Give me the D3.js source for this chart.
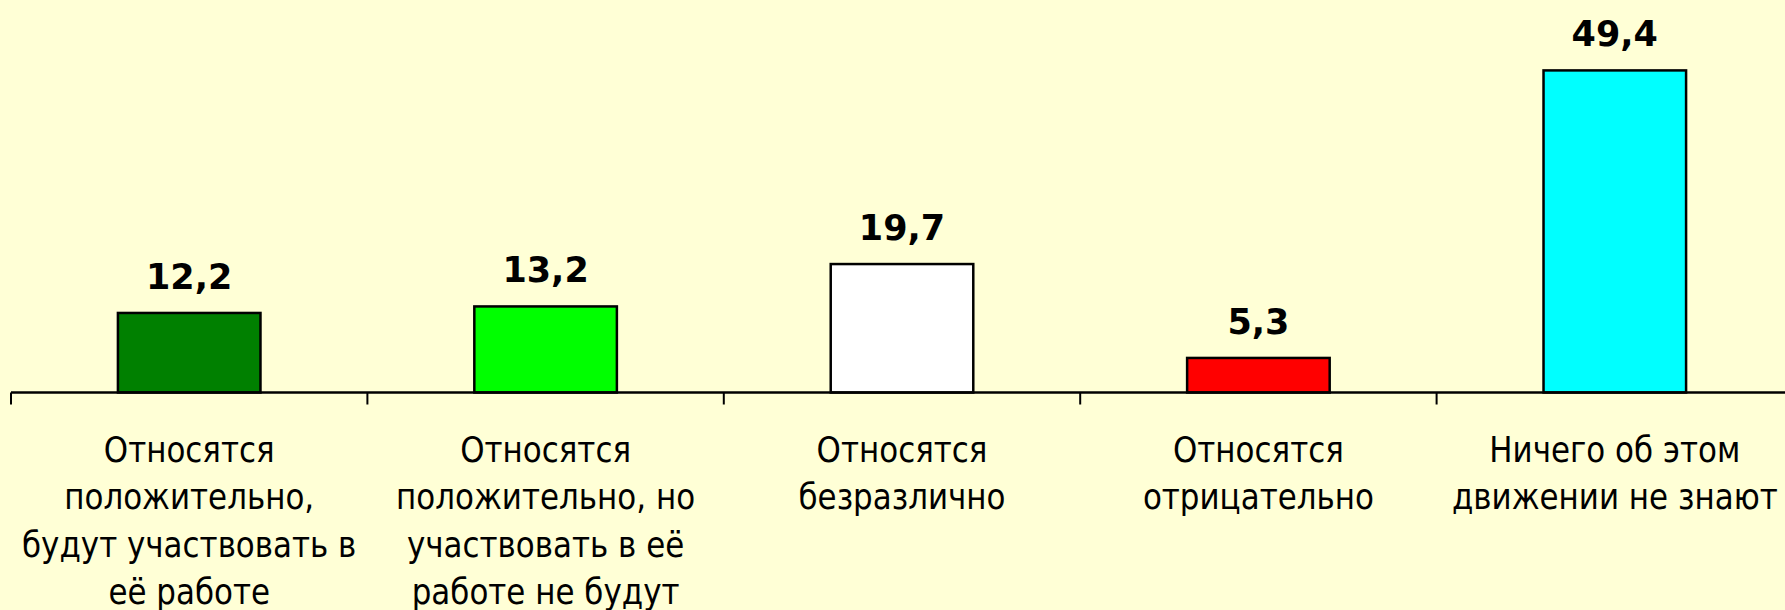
<!DOCTYPE html>
<html>
<head>
<meta charset="utf-8">
<script src="https://cdn.jsdelivr.net/npm/d3@7"></script>
<style>
  html, body { margin: 0; padding: 0; background: #ffffd6; overflow: hidden; }
  text { font-family: "DejaVu Sans", Verdana, sans-serif; }
</style>
</head>
<body>
<div id="chart"></div>
<script>
var svgWidth = 1785;
var svgHeight = 610;

// Data
var categories = [
  ["Относятся", "положительно,", "будут участвовать в", "её работе"],
  ["Относятся", "положительно, но", "участвовать в её", "работе не будут"],
  ["Относятся", "безразлично"],
  ["Относятся", "отрицательно"],
  ["Ничего об этом", "движении не знают"]
];
var values = [12.2, 13.2, 19.7, 5.3, 49.4];
var valueLabels = ["12,2", "13,2", "19,7", "5,3", "49,4"];
var barColors = ["#008000", "#00ff00", "#ffffff", "#ff0000", "#00ffff"];

var axisY = 392.5;
var left = 11;
var step = 356.4;

var svg = d3.select("#chart")
  .append("svg")
  .attr("width", svgWidth)
  .attr("height", svgHeight);

svg.append("rect")
  .attr("width", svgWidth)
  .attr("height", svgHeight)
  .attr("fill", "#ffffd6");

var idx = d3.range(values.length);

// Scales
var xScale = d3.scaleBand()
  .domain(idx)
  .range([left, left + step * values.length])
  .padding(0);

var yScale = d3.scaleLinear()
  .domain([0, 50])
  .range([axisY, axisY - 326]);

var barWidth = xScale.bandwidth() * 0.4;

// Bars
svg.selectAll(".bar")
  .data(idx)
  .enter()
  .append("rect")
  .attr("class", "bar")
  .attr("x", i => xScale(i) + (xScale.bandwidth() - barWidth) / 2)
  .attr("y", i => yScale(values[i]))
  .attr("width", barWidth)
  .attr("height", i => axisY - yScale(values[i]))
  .attr("fill", i => barColors[i])
  .attr("stroke", "#000")
  .attr("stroke-width", 2.5);

// Axis line and ticks
svg.append("line")
  .attr("x1", xScale.range()[0])
  .attr("x2", xScale.range()[1])
  .attr("y1", axisY)
  .attr("y2", axisY)
  .attr("stroke", "#000")
  .attr("stroke-width", 2.5);

svg.selectAll(".tick")
  .data(idx)
  .enter()
  .append("line")
  .attr("class", "tick")
  .attr("x1", i => xScale(i))
  .attr("x2", i => xScale(i))
  .attr("y1", axisY)
  .attr("y2", axisY + 12)
  .attr("stroke", "#000")
  .attr("stroke-width", 2);

// Value labels
svg.selectAll(".val")
  .data(idx)
  .enter()
  .append("text")
  .attr("class", "val")
  .attr("x", i => xScale(i) + xScale.bandwidth() / 2)
  .attr("y", i => yScale(values[i]) - 24)
  .attr("text-anchor", "middle")
  .attr("font-size", "35px")
  .attr("font-weight", "bold")
  .attr("fill", "#000")
  .text(i => valueLabels[i]);

// Category labels (slightly condensed like the original)
var catGroup = svg.selectAll(".cat")
  .data(idx)
  .enter()
  .append("g")
  .attr("class", "cat")
  .attr("transform", i => `translate(${xScale(i) + xScale.bandwidth() / 2}, 0) scale(0.86, 1)`)
  .append("text")
  .attr("text-anchor", "middle")
  .attr("font-size", "36px")
  .attr("fill", "#000");

catGroup.selectAll("tspan")
  .data(i => categories[i])
  .enter()
  .append("tspan")
  .attr("x", 0)
  .attr("y", (d, j) => 462 + j * 47.5)
  .text(d => d);
</script>
</body>
</html>
